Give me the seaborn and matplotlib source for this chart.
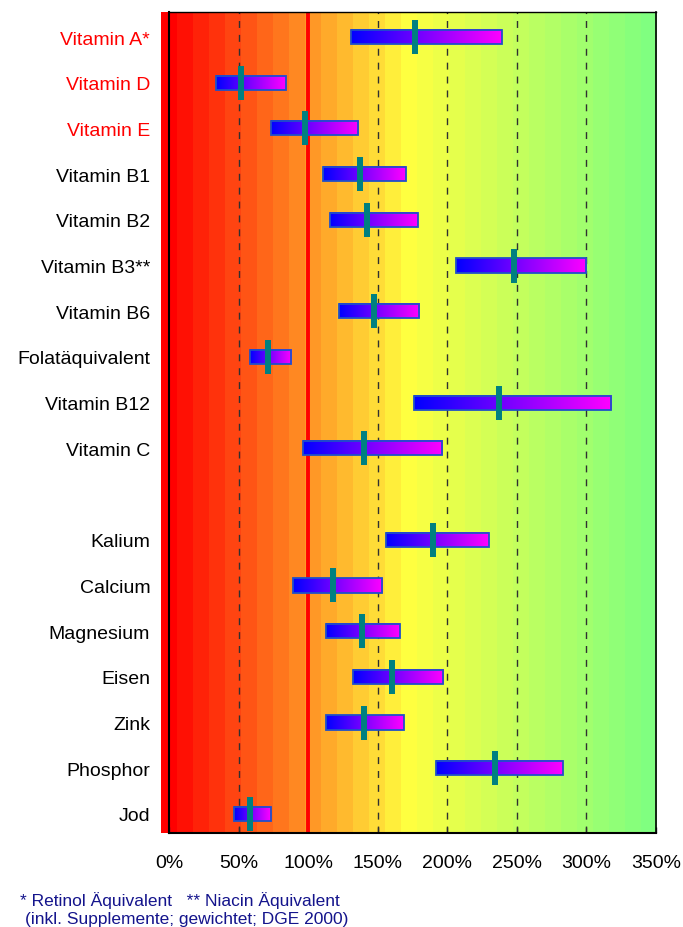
import numpy as np
import matplotlib
matplotlib.use("Agg")
import matplotlib.pyplot as plt
from matplotlib.path import Path
from matplotlib.colors import LinearSegmentedColormap
import seaborn as sns

# Nutrient supply in % of the DGE reference value: range (low..high) and median
vitamins = ["Vitamin A*", "Vitamin D", "Vitamin E", "Vitamin B1", "Vitamin B2",
            "Vitamin B3**", "Vitamin B6", "Folatäquivalent", "Vitamin B12", "Vitamin C"]
vit_low = [131, 34, 73, 111, 116, 206, 122, 58, 176, 96]
vit_high = [239, 84, 136, 170, 179, 300, 180, 88, 318, 196]
vit_median = [177, 52, 98, 137, 142, 248, 147, 71, 237, 140]

minerals = ["Kalium", "Calcium", "Magnesium", "Eisen", "Zink", "Phosphor", "Jod"]
min_low = [156, 89, 113, 132, 113, 192, 47]
min_high = [230, 153, 166, 197, 169, 283, 73]
min_median = [190, 118, 139, 160, 140, 234, 58]

highlighted = ["Vitamin A*", "Vitamin D", "Vitamin E"]
x_ticks = [0, 50, 100, 150, 200, 250, 300, 350]
guide_levels = [50, 150, 200, 250, 300]
reference_level = 100
footnote_1 = "* Retinol Äquivalent   ** Niacin Äquivalent"
footnote_2 = "(inkl. Supplemente; gewichtet; DGE 2000)"

sns.set_theme(style="white")
plt.rcParams["font.family"] = ["Liberation Sans", "DejaVu Sans"]

names = vitamins + minerals
low = vit_low + min_low
high = vit_high + min_high
median = vit_median + min_median
# vitamins first, one empty slot, then minerals
pos = list(range(len(vitamins))) + [len(vitamins) + 1 + i for i in range(len(minerals))]

W, H = 683, 928
fig = plt.figure(figsize=(W / 100, H / 100), dpi=100)
ax = fig.add_axes([169 / W, 1 - 834 / H, (656 - 169) / W, (834 - 13) / H])

y_top, y_bot = -0.547, 17.416
x_min, x_max = 0, 350

# traffic-light background in stepped bands
ampel = LinearSegmentedColormap.from_list("ampel", ["#ff0000", "#ffff40", "#80ff80"])
bands = ampel(np.linspace(0, 1, 31))[None, :, :]
ax.imshow(bands, extent=(-5.75, x_max, y_bot, y_top), aspect="auto",
          interpolation="nearest", clip_on=False, zorder=0)

for lv in guide_levels:
    ax.axvline(lv, color="#303030", lw=1.0, ls=(0, (5, 5)), zorder=1)
ax.axvline(reference_level, color="#ff0000", lw=2.8, zorder=2)

# range bars with blue-to-magenta fill
bar_cmap = LinearSegmentedColormap.from_list("bm", ["#0000ff", "#ff00ff"])
grad = np.linspace(0, 1, 256)[None, :]
h = 0.31
for y, lo, hi in zip(pos, low, high):
    ax.imshow(grad, cmap=bar_cmap, extent=(lo, hi, y + h / 2, y - h / 2),
              aspect="auto", interpolation="bilinear", zorder=3)
ax.barh(pos, [hi - lo for lo, hi in zip(low, high)], left=low, height=h,
        fill=False, edgecolor="#1f50c8", linewidth=1.3, zorder=4)

# median markers
rect = Path([(-3, -16.5), (3, -16.5), (3, 16.5), (-3, 16.5), (-3, -16.5)],
            [Path.MOVETO, Path.LINETO, Path.LINETO, Path.LINETO, Path.CLOSEPOLY])
sns.scatterplot(x=median, y=pos, marker=rect, s=565, color="#008080",
                linewidth=0, zorder=5, ax=ax, legend=False)

ax.set_xlim(x_min, x_max)
ax.set_ylim(y_bot, y_top)
ax.set_xlabel("")
ax.set_ylabel("")

ax.set_xticks(x_ticks)
ax.set_xticklabels([f"{v}%" for v in x_ticks], fontsize=14, color="black")
ax.tick_params(axis="x", direction="in", length=4, width=1, color="#333333", pad=15,
               bottom=True)
ax.set_yticks(pos)
ax.set_yticklabels(names, fontsize=14)
ax.tick_params(axis="y", length=0, pad=13.5)
for lbl in ax.get_yticklabels():
    lbl.set_color("#ff0000" if lbl.get_text() in highlighted else "black")

for side in ["top", "right", "bottom", "left"]:
    ax.spines[side].set_visible(True)
    ax.spines[side].set_color("black")
ax.spines["top"].set_linewidth(1.0)
ax.spines["right"].set_linewidth(1.2)
ax.spines["bottom"].set_linewidth(1.5)
ax.spines["left"].set_linewidth(1.5)
for s in ax.spines.values():
    s.set_zorder(6)

fig.text(20 / W, 1 - 901 / H, footnote_1, color="#14148c", fontsize=12.5, va="center")
fig.text(25 / W, 1 - 920 / H, footnote_2, color="#14148c", fontsize=12.5, va="center")

fig.savefig("out.png", dpi=100)
